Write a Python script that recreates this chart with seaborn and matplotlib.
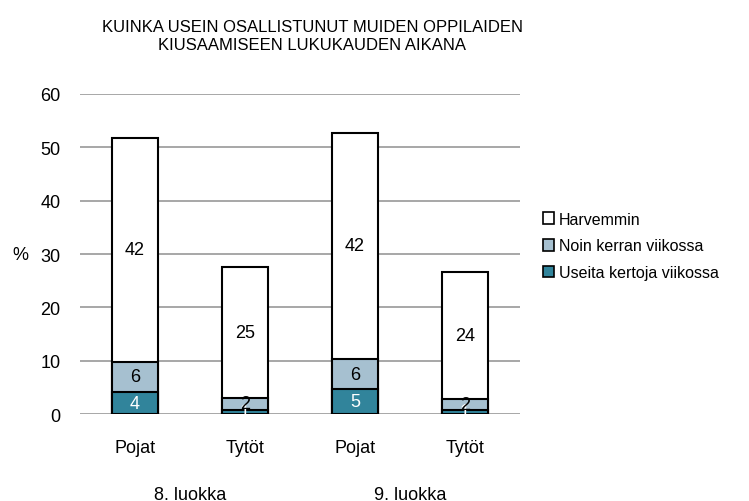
import numpy as np
import pandas as pd
import matplotlib
matplotlib.use("Agg")
import matplotlib.pyplot as plt
import seaborn as sns
from matplotlib.patches import Patch
import matplotlib.transforms as mtransforms

# -----------------------------
# Data
# -----------------------------
bars = ["8_Pojat", "8_Tytot", "9_Pojat", "9_Tytot"]
tick_labels = ["Pojat", "Tytöt", "Pojat", "Tytöt"]
groups = ["8. luokka", "9. luokka"]

useita = [4.1, 0.8, 4.7, 0.8]       # Useita kertoja viikossa
noin = [5.7, 2.2, 5.6, 2.0]         # Noin kerran viikossa
harvemmin = [42.0, 24.6, 42.4, 23.8]  # Harvemmin

series_names = ["Useita kertoja viikossa", "Noin kerran viikossa", "Harvemmin"]
colors = ["#31849B", "#A6C0D0", "#FFFFFF"]

title = "KUINKA USEIN OSALLISTUNUT MUIDEN OPPILAIDEN\nKIUSAAMISEEN LUKUKAUDEN AIKANA"

# -----------------------------
# Build table with cumulative heights
# -----------------------------
df = pd.DataFrame({"bar": bars, "useita": useita, "noin": noin, "harvemmin": harvemmin})
df["c1"] = df["useita"]
df["c2"] = df["c1"] + df["noin"]
df["c3"] = df["c2"] + df["harvemmin"]

sns.set_style("white")
plt.rcParams["font.family"] = ["Liberation Sans", "DejaVu Sans"]
plt.rcParams["text.color"] = "black"
plt.rcParams["xtick.color"] = "black"
plt.rcParams["ytick.color"] = "black"
plt.rcParams["axes.labelcolor"] = "black"

fig = plt.figure(figsize=(7.49, 5.02), dpi=100)
ax = fig.add_axes([80 / 749, 1 - 415 / 502, 440 / 749, 320 / 502])

bar_w = 0.41
for col, c in [("c3", colors[2]), ("c2", colors[1]), ("c1", colors[0])]:
    sns.barplot(data=df, x="bar", y=col, order=bars, color=c, edgecolor="black",
                linewidth=1.5, width=bar_w, errorbar=None, saturation=1, ax=ax, zorder=3)

# segment labels
for i in range(len(bars)):
    segs = [(0, df["c1"][i], useita[i], "white"),
            (df["c1"][i], df["c2"][i], noin[i], "black"),
            (df["c2"][i], df["c3"][i], harvemmin[i], "black")]
    for lo, hi, v, tc in segs:
        ax.text(i, (lo + hi) / 2, f"{v:.0f}", ha="center", va="center",
                fontsize=13, color=tc, zorder=5)

ax.set_ylim(0, 60)
ax.set_xlim(-0.5, 3.5)
ax.set_yticks(np.arange(0, 61, 10))
ax.set_xticks(range(len(bars)))
ax.set_xticklabels(tick_labels)
ax.yaxis.grid(True, color="#A0A0A0", linewidth=1.3)
ax.set_axisbelow(True)
for s in ax.spines.values():
    s.set_visible(False)
ax.tick_params(axis="y", length=0, pad=14, labelsize=13)
ax.tick_params(axis="x", length=0, pad=18, labelsize=13)
ax.set_xlabel("")
ax.set_ylabel("%", rotation=0, fontsize=13, ha="center", va="center")
ax.yaxis.set_label_coords(-0.136, 0.5)

# group labels under the ticks
trans = mtransforms.blended_transform_factory(ax.transData, ax.transAxes)
for g, x in zip(groups, [0.5, 2.5]):
    ax.text(x, -0.25, g, transform=trans, ha="center", va="center", fontsize=13)

fig.text(312 / 749, 1 - 37 / 502, title, ha="center", va="center",
         fontsize=12, linespacing=1.25)

handles = [Patch(facecolor=c, edgecolor="black", linewidth=1.2, label=n)
           for n, c in zip(series_names, colors)][::-1]
ax.legend(handles=handles, loc="center left", bbox_to_anchor=(535 / 749, 1 - 247 / 502),
          bbox_transform=fig.transFigure, frameon=False, fontsize=11.5,
          handlelength=0.7, handleheight=0.7, handletextpad=0.3, labelspacing=0.75,
          borderpad=0)

fig.savefig("out.png", dpi=100)
